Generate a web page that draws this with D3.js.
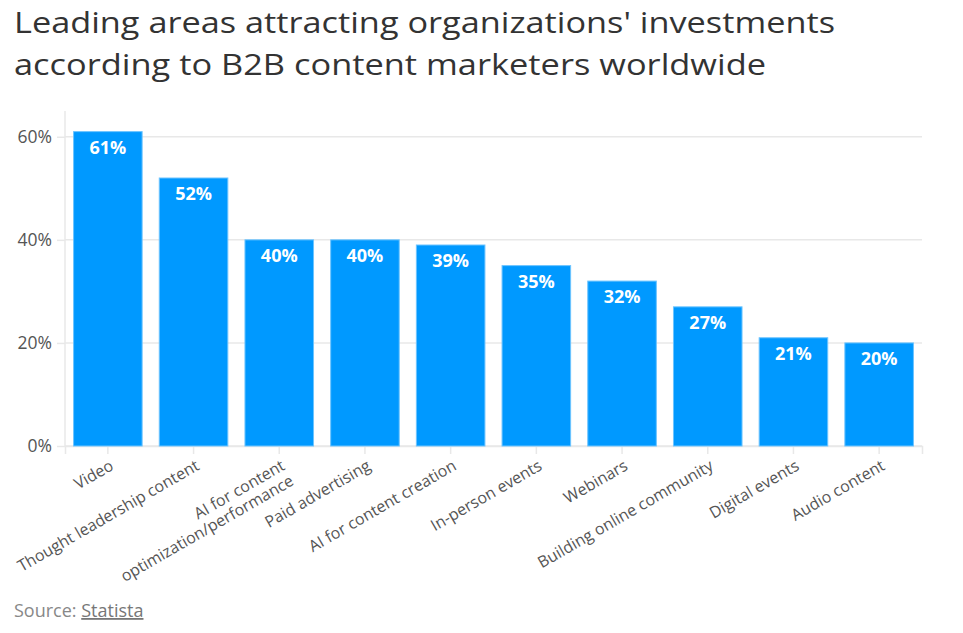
<!DOCTYPE html>
<html><head><meta charset="utf-8">
<script src="https://cdn.jsdelivr.net/npm/d3@7"></script>
<style>body{margin:0;background:#fff;} svg{display:block;}</style>
</head><body>
<svg id="c" width="963" height="633"></svg>
<script>
const categories = ["Video","Thought leadership content","AI for content\noptimization/performance","Paid advertising","AI for content creation","In-person events","Webinars","Building online community","Digital events","Audio content"];
const values = [61,52,40,40,39,35,32,27,21,20];
const yTicks = [0,20,40,60];
const titleLines = ["Leading areas attracting organizations' investments","according to B2B content marketers worldwide"];

const svg = d3.select("#c");
const font = "'Open Sans', sans-serif";
const m = {left:65, right:922, top:111, bottom:446};

const x = d3.scaleBand().domain(categories).range([m.left, m.right]).paddingInner(0.2).paddingOuter(0.1);
const y = d3.scaleLinear().domain([0,65]).range([m.bottom, m.top]);

svg.append("g").selectAll("text").data(titleLines).join("text")
  .attr("x",14).attr("y",(d,i)=>33+i*42)
  .attr("font-family",font).attr("font-size",30).attr("fill","#333")
  .attr("textLength",(d,i)=>i===0?821:752).attr("lengthAdjust","spacingAndGlyphs")
  .text(d=>d);

// gridlines
svg.append("g").selectAll("line").data(yTicks).join("line")
  .attr("x1",m.left).attr("x2",m.right).attr("y1",d=>y(d)).attr("y2",d=>y(d))
  .attr("stroke","#e8e8e8").attr("stroke-width",1.5);
svg.append("line").attr("x1",m.left).attr("x2",m.left).attr("y1",m.top).attr("y2",m.bottom)
  .attr("stroke","#e8e8e8").attr("stroke-width",1.5);

// y axis
const ya = svg.append("g").attr("transform",`translate(${m.left},0)`)
  .call(d3.axisLeft(y).tickValues(yTicks).tickFormat(d=>d+"%").tickSize(8).tickPadding(5));
ya.select(".domain").remove();
ya.selectAll("line").attr("stroke","#e8e8e8").attr("stroke-width",1.5);
ya.selectAll("text").attr("font-family",font).attr("font-size",17.5).attr("fill","#555");

// x axis
const xa = svg.append("g").attr("transform",`translate(0,${m.bottom})`)
  .call(d3.axisBottom(x).tickSize(8).tickFormat(""));
xa.select(".domain").attr("stroke","#e8e8e8").attr("stroke-width",1.5);
xa.selectAll("line").attr("stroke","#e8e8e8").attr("stroke-width",1.5);
xa.selectAll(".tick").each(function(d){
  const lines = d.split("\n");
  const t = d3.select(this).append("text")
    .attr("transform","translate(4,18) rotate(-30)")
    .attr("text-anchor","end").attr("font-family",font).attr("font-size",16).attr("fill","#555");
  lines.forEach((l,i)=>t.append("tspan").attr("x",0).attr("dy",i===0?"0.35em":"1.1em").text(l));
});

// bars
svg.append("g").selectAll("rect").data(values).join("rect")
  .attr("x",(d,i)=>x(categories[i])).attr("width",x.bandwidth())
  .attr("y",d=>y(d)).attr("height",d=>y(0)-y(d))
  .attr("fill","#0099ff").attr("stroke","#6cc4ff").attr("stroke-width",1);

svg.append("g").selectAll("text").data(values).join("text")
  .attr("x",(d,i)=>x(categories[i])+x.bandwidth()/2).attr("y",d=>y(d)+22)
  .attr("text-anchor","middle").attr("font-family",font).attr("font-weight","bold")
  .attr("font-size",18).attr("fill","#fff").text(d=>d+"%");

const src = svg.append("text").attr("x",14).attr("y",617).attr("font-family",font).attr("font-size",18).attr("fill","#888");
src.append("tspan").text("Source: ");
src.append("tspan").attr("text-decoration","underline").attr("fill","#777").text("Statista");
</script>
</body></html>
